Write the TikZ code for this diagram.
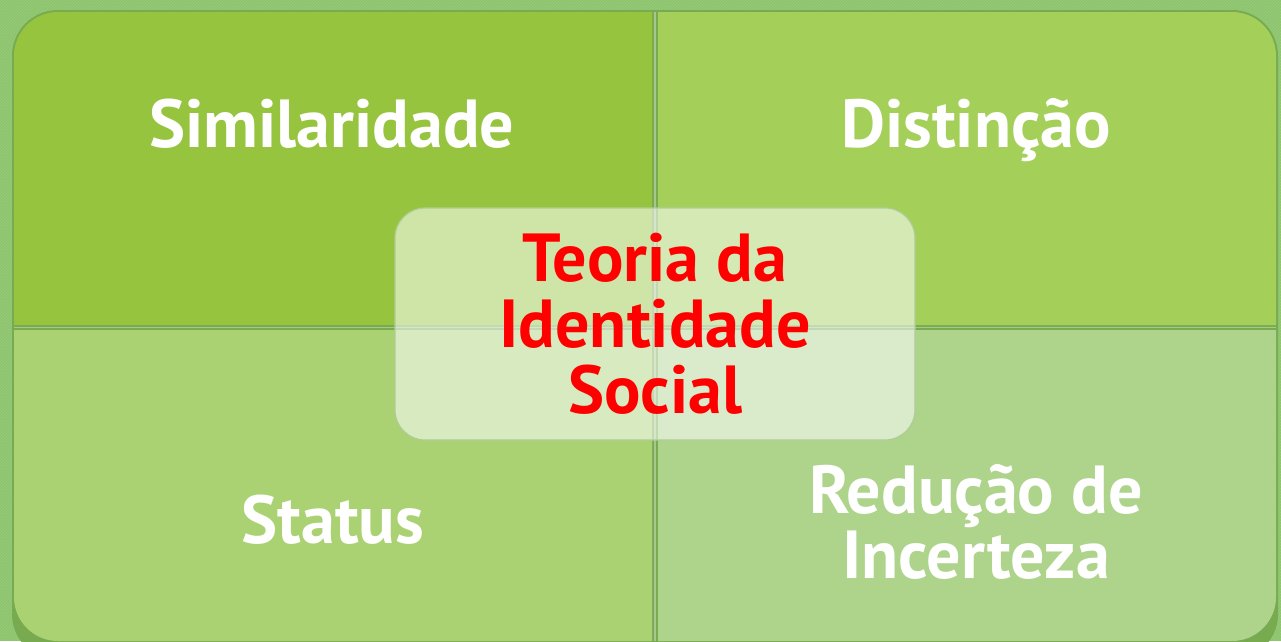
\documentclass[tikz,border=0pt]{standalone}
\usepackage{fontspec}
\setmainfont{PT Sans}
\usetikzlibrary{patterns}
\definecolor{bgc}{RGB}{140,196,108}
\definecolor{qtl}{RGB}{150,196,62}
\definecolor{qtr}{RGB}{164,208,90}
\definecolor{qbl}{RGB}{170,210,115}
\definecolor{qbr}{RGB}{174,212,140}
\definecolor{edge}{RGB}{120,170,80}
\definecolor{txtred}{RGB}{255,0,0}
\tikzset{
  quadtext/.style={text=white, font=\fontsize{68}{65}\selectfont\bfseries, align=center},
  centerbox/.style={draw=edge!60!white, line width=1.2pt, fill=white, fill opacity=0.55, text opacity=1,
    rounded corners=30pt, minimum width=520pt, minimum height=232pt, text=txtred,
    font=\fontsize{68}{66}\selectfont\bfseries, align=center, inner sep=0pt},
  divider/.style={white, opacity=0.35, line width=1.5pt}
}
\begin{document}
\begin{tikzpicture}[x=1pt,y=-1pt]
\useasboundingbox (0,0) rectangle (1281,641);
\fill[bgc] (0,0) rectangle (1281,641);
\fill[pattern=north east lines, pattern color=white, opacity=0.12] (0,0) rectangle (1281,641);
% outer shadow
\fill[edge, rounded corners=46pt] (12,10) rectangle (1278,660);
% quadrants
\fill[qtl] (14,325) -- (14,56) arc[start angle=180,end angle=270,radius=44] -- (652,12) -- (652,325) -- cycle;
\fill[qtr] (658,12) -- (1232,12) arc[start angle=270,end angle=360,radius=44] -- (1276,325) -- (658,325) -- cycle;
\fill[qbl] (14,330) -- (652,330) -- (652,641) -- (58,641) arc[start angle=90,end angle=180,radius=44] -- cycle;
\fill[qbr] (658,330) -- (1276,330) -- (1276,597) arc[start angle=0,end angle=90,radius=44] -- (658,641) -- cycle;
\draw[divider] (655,12) -- (655,641);
\draw[divider] (14,327.5) -- (1276,327.5);
% labels
\node[quadtext, anchor=base] (sim) at (332,147) {Similaridade};
\node[quadtext, anchor=base] (dis) at (976,147) {Distinção};
\node[quadtext, anchor=base] (sta) at (333,543) {Status};
\node[quadtext] (red) at (976,522) {Redução de\\Incerteza};
\node[centerbox] (cen) at (655,324) {Teoria da\\Identidade\\Social};
\end{tikzpicture}
\end{document}
